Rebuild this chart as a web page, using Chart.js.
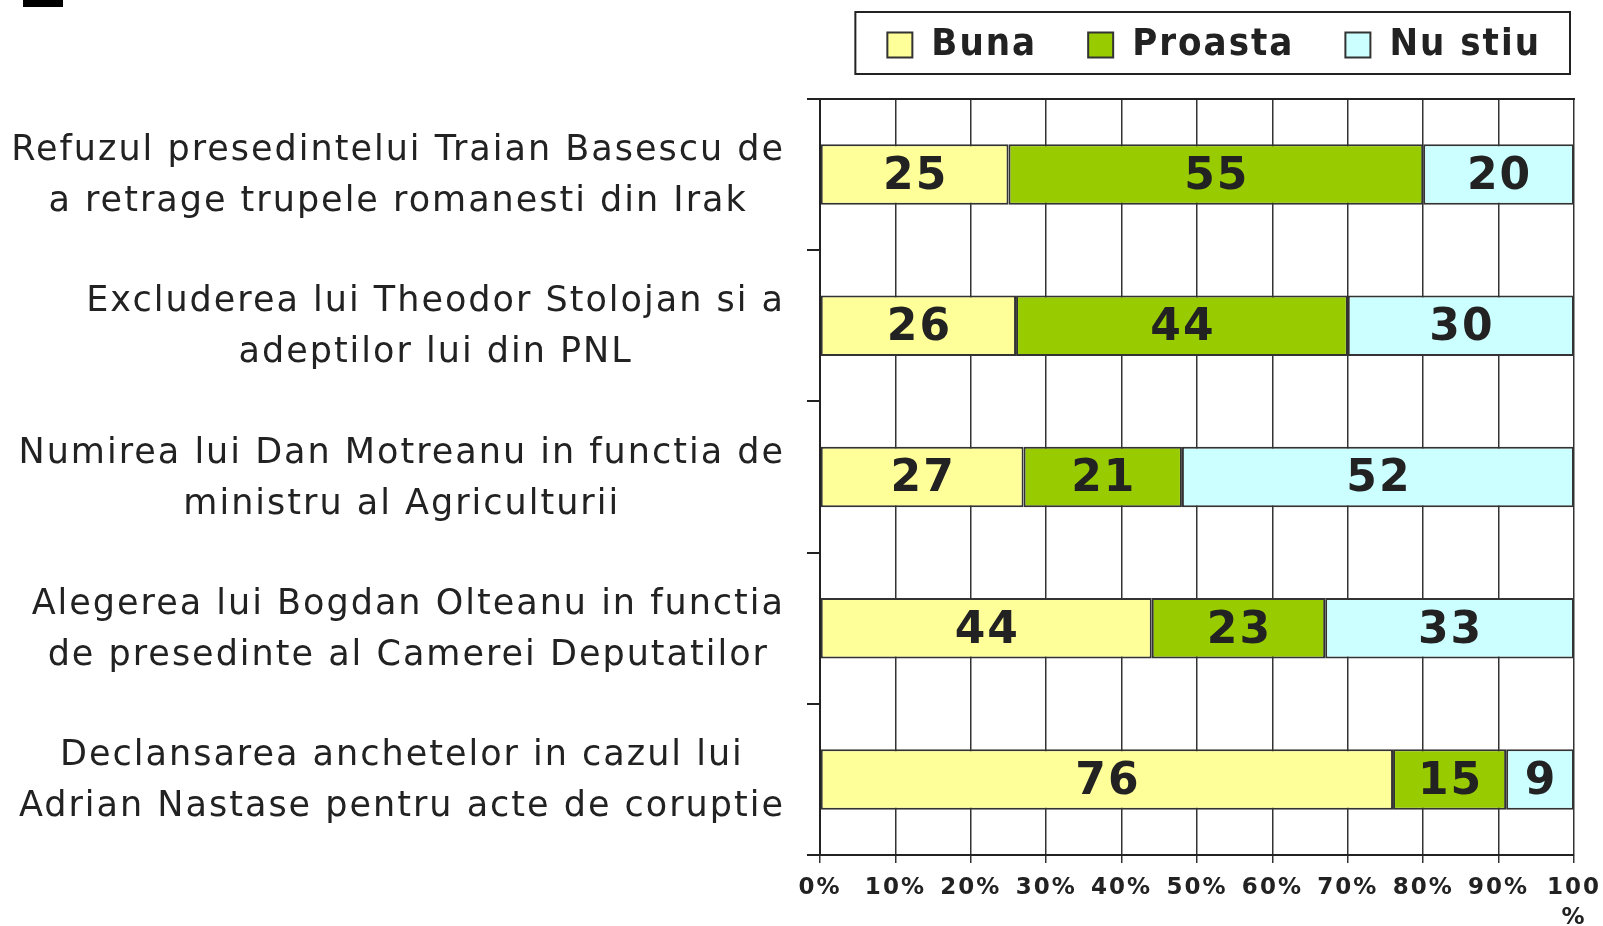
<!DOCTYPE html>
<html>
<head>
<meta charset="utf-8">
<script src="https://cdn.jsdelivr.net/npm/chart.js@4.4.1/dist/chart.umd.min.js"></script>
<style>
  html, body { margin: 0; padding: 0; background: #fff; }
  #wrap { position: relative; width: 1603px; height: 926px; }
  #mark { position: absolute; left: 23px; top: 0; width: 40px; height: 7px; background: #000; }
</style>
</head>
<body>
<div id="wrap">
  <canvas id="sondaj"></canvas>
  <div id="mark"></div>
</div>
<script>
const categorii = [
    ['Refuzul presedintelui Traian Basescu de', 'a retrage trupele romanesti din Irak'],
    ['Excluderea lui Theodor Stolojan si a', 'adeptilor lui din PNL'],
    ['Numirea lui Dan Motreanu in functia de', 'ministru al Agriculturii'],
    ['Alegerea lui Bogdan Olteanu in functia', 'de presedinte al Camerei Deputatilor'],
    ['Declansarea anchetelor in cazul lui', 'Adrian Nastase pentru acte de coruptie']
];
const buna = [25, 26, 27, 44, 76];
const proasta = [55, 44, 21, 23, 15];
const nu_stiu = [20, 30, 52, 33, 9];
const etichete_x = ['0%', '10%', '20%', '30%', '40%', '50%', '60%', '70%', '80%', '90%', ['100', '%']];

Chart.defaults.font.family = 'DejaVu Sans';
Chart.defaults.color = '#222';

// spatiere intre litere, ca in original
const spatiere = {
    id: 'spatiere',
    beforeUpdate(chart) { chart.ctx.letterSpacing = '2px'; },
    beforeDraw(chart) { chart.ctx.letterSpacing = '2px'; }
};

// valorile in mijlocul fiecarui segment
const valori = {
    id: 'valori',
    afterDatasetsDraw(chart) {
        const ctx = chart.ctx;
        ctx.save();
        ctx.font = 'bold 44px "DejaVu Sans"';
        ctx.fillStyle = '#222';
        ctx.textAlign = 'center';
        ctx.textBaseline = 'middle';
        chart.data.datasets.forEach((ds, i) => {
            chart.getDatasetMeta(i).data.forEach((bar, j) => {
                ctx.fillText(ds.data[j], (bar.x + bar.base) / 2 + 1, bar.y + 3);
            });
        });
        ctx.restore();
    }
};

// etichetele categoriilor: blocul aliniat la dreapta, randurile centrate in bloc
const etichete_y = {
    id: 'etichete_y',
    afterDraw(chart) {
        const s = chart.scales.y;
        const ctx = chart.ctx;
        ctx.save();
        ctx.font = '35px "DejaVu Sans"';
        ctx.fillStyle = '#222';
        ctx.textAlign = 'center';
        ctx.textBaseline = 'middle';
        const dreapta = s.right - 35;
        categorii.forEach((randuri, i) => {
            const w = Math.max(...randuri.map(r => ctx.measureText(r).width));
            const cx = dreapta - w / 2;
            const cy = s.getPixelForTick(i) + 2;
            randuri.forEach((r, k) => ctx.fillText(r, cx, cy + (k - (randuri.length - 1) / 2) * 51));
        });
        ctx.restore();
    }
};

// chenarul legendei
const chenar = {
    id: 'chenar',
    afterDraw(chart) {
        const hb = chart.legend.legendHitBoxes;
        if (!hb || !hb.length) return;
        const first = hb[0], last = hb[hb.length - 1];
        const mid = first.top + first.height / 2;
        const ctx = chart.ctx;
        ctx.save();
        ctx.strokeStyle = '#222';
        ctx.lineWidth = 2;
        const x0 = first.left - 32;
        ctx.strokeRect(x0, mid - 33, last.left + last.width + 29 - x0, 62);
        ctx.restore();
    }
};

const data_sondaj = {
    labels: categorii,
    datasets: [
        { label: 'Buna', data: buna, backgroundColor: '#FFFF99' },
        { label: 'Proasta', data: proasta, backgroundColor: '#99CC00' },
        { label: 'Nu stiu', data: nu_stiu, backgroundColor: '#CCFFFF' }
    ].map(d => Object.assign(d, {
        borderColor: '#333',
        borderWidth: 2,
        borderSkipped: false,
        barPercentage: 0.4,
        categoryPercentage: 1
    }))
};

const config_sondaj = {
    type: 'bar',
    data: data_sondaj,
    plugins: [spatiere, valori, etichete_y, chenar],
    options: {
        indexAxis: 'y',
        responsive: true,
        maintainAspectRatio: false,
        animation: false,
        layout: { padding: { top: -25, right: 11, bottom: 0, left: 0 } },
        plugins: {
            tooltip: { enabled: false },
            legend: {
                position: 'top',
                align: 'end',
                labels: {
                    boxWidth: 25,
                    boxHeight: 25,
                    padding: 51,
                    color: '#222',
                    font: { family: '"DejaVu Sans Condensed", "DejaVu Sans"', size: 38, weight: 'bold' }
                }
            }
        },
        scales: {
            x: {
                stacked: true,
                min: 0,
                max: 100,
                ticks: {
                    stepSize: 10,
                    padding: 10,
                    color: '#222',
                    font: { size: 23, weight: 'bold', lineHeight: 1.3 },
                    maxRotation: 0,
                    autoSkip: false,
                    callback: (v, i) => etichete_x[i]
                },
                grid: { color: '#333', lineWidth: 1.5, tickLength: 8 },
                border: { color: '#222', width: 2 },
                afterFit: s => { s.height = 71; s.paddingRight = 29; }
            },
            x2: {
                type: 'linear',
                position: 'top',
                min: 0,
                max: 100,
                grid: { display: false },
                ticks: { display: false },
                border: { display: true, color: '#222', width: 2 },
                afterFit: s => { s.height = 25; }
            },
            y: {
                stacked: true,
                ticks: { display: false },
                grid: { drawOnChartArea: false, tickLength: 13, color: '#222', lineWidth: 2 },
                border: { color: '#222', width: 2 },
                afterFit: s => { s.width = 820; }
            }
        }
    }
};

const grafic_sondaj = new Chart(document.getElementById('sondaj'), config_sondaj);
</script>
</body>
</html>
